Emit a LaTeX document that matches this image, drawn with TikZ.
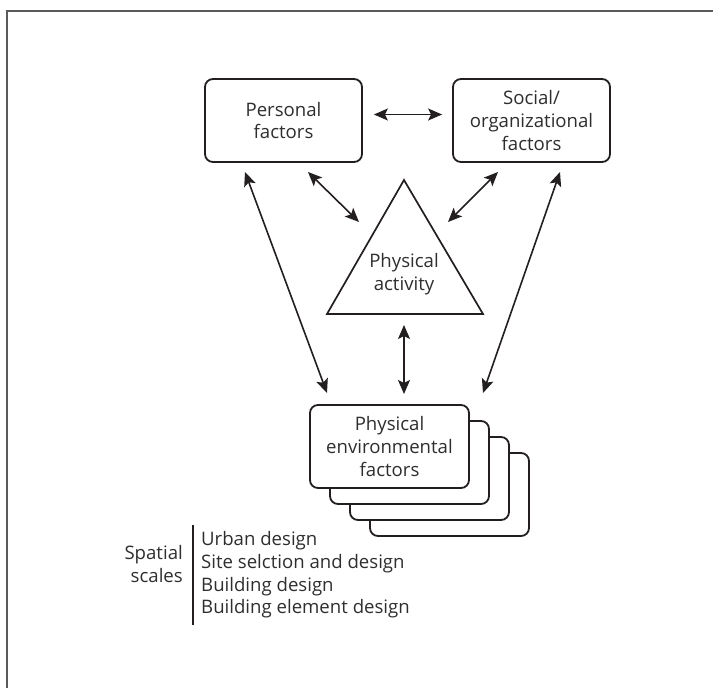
\documentclass[tikz,border=0pt]{standalone}
\usepackage{fontspec}
\setmainfont{Open Sans}
\usetikzlibrary{arrows.meta}
\definecolor{ink}{HTML}{231F20}
\definecolor{txtcol}{HTML}{2E2E2E}
\definecolor{framecol}{HTML}{5A5A5A}
\begin{document}
\begin{tikzpicture}[x=1pt,y=-1pt,
  txt/.style={text=txtcol,font=\fontsize{18.6}{22.6}\selectfont,inner sep=0pt,align=center},
  box/.style={txt,draw=ink,line width=1.8pt,rounded corners=8pt,fill=white,minimum width=157pt,minimum height=83pt},
  tip/.tip={Stealth[length=14pt,width=12pt,inset=3pt]},
  link/.style={draw=ink,line width=1.6pt,tip-tip},
  tri/.style={draw=ink,line width=1.7pt,line join=miter}]
\useasboundingbox (0,0) rectangle (713,688);
\draw[framecol,line width=1.6pt] (7,11) rectangle (780,760);

% top boxes
\node[box] (personal) at (283.5,120.5) {Personal\\factors};
\node[box] (social) at (531.5,120.5) {Social/\\organizational\\factors};

% triangle
\coordinate (apex) at (404,180);
\coordinate (bl) at (327,314);
\coordinate (br) at (483,314);
\draw[tri] (apex) -- (br) -- (bl) -- cycle;
\node[txt] (activity) at (404,274) {Physical\\activity};

% stacked environment boxes
\node[box,minimum width=159pt] (env3) at (449.5,494.5) {};
\node[box,minimum width=159pt] (env2) at (429.5,478.5) {};
\node[box,minimum width=159pt] (env1) at (409.5,462.5) {};
\node[box,minimum width=159pt] (env) at (389.5,446.5) {Physical\\environmental\\factors};

% connector end points
\coordinate (p1) at (308,172);
\coordinate (t1) at (359,222);
\coordinate (s1) at (498,172);
\coordinate (t2) at (448,222);
\coordinate (p2) at (245,172);
\coordinate (e1) at (327,393);
\coordinate (s2) at (560,172);
\coordinate (e2) at (483,393);
\coordinate (t3) at (404,325);
\coordinate (e3) at (404,394);

\draw[link,shorten <=11pt,shorten >=10pt] ([yshift=6pt]personal.east) -- ([yshift=6pt]social.west);
\draw[link] (p1) -- (t1);
\draw[link] (s1) -- (t2);
\draw[link] (p2) -- (e1);
\draw[link] (s2) -- (e2);
\draw[link] (t3) -- (e3);

% spatial scales
\node[txt,align=right,anchor=east] (spatial) at (183,564) {Spatial\\scales};
\coordinate (lt) at (193,525);
\coordinate (lb) at (193,625);
\draw[ink,line width=1.5pt] (lt) -- (lb);
\node[txt,align=left,anchor=west] (scales) at (201,575) {Urban design\\Site selction and design\\Building design\\Building element design};
\end{tikzpicture}
\end{document}
